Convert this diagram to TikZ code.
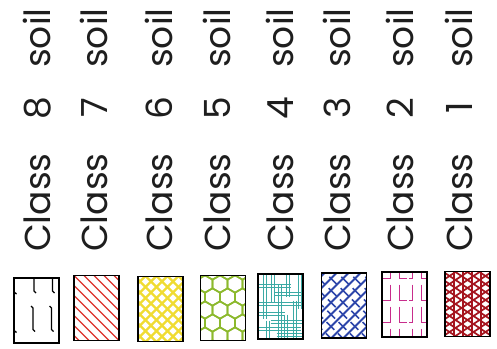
\documentclass[tikz,border=0pt]{standalone}
\usepackage{fontspec}
\setmainfont{Poppins}
\definecolor{txt}{RGB}{30,30,30}
\definecolor{c7red}{RGB}{220,50,45}
\definecolor{c6yel}{RGB}{240,220,50}
\definecolor{c5grn}{RGB}{140,185,45}
\definecolor{c4teal}{RGB}{60,170,165}
\definecolor{c3blue}{RGB}{45,70,170}
\definecolor{c2mag}{RGB}{200,45,140}
\definecolor{c1red}{RGB}{165,20,30}
\tikzset{
  lbl/.style={rotate=90, inner sep=0, font=\fontsize{36}{36}\selectfont, text=txt},
  swatch/.style={draw=black, line width=1.8pt, minimum width=45pt, minimum height=65pt, inner sep=0pt, fill=white},
  patEight/.style={path picture={\begin{scope}[shift={(path picture bounding box.center)}, line width=1.3pt, black]
      \draw (-2.5,-35) -- (-2.5,-19.5) -- (-0.5,-17.5);
      \draw (16,-35) -- (16,-19.5) -- (18,-17.5);
      \draw (-5.5,-4.5) -- (-3.5,-2.5) -- (-3.5,19) -- (-1.5,21);
      \draw (13,-4.5) -- (15,-2.5) -- (15,19) -- (17,21);
      \draw (-23,-19) -- (-20,-16.5);
      \draw (-23,19.5) -- (-20,22);
    \end{scope}}},
  patSeven/.style={path picture={\begin{scope}[shift={(path picture bounding box.center)}]
      \foreach \a in {-100,-90,...,30} \draw[c7red, line width=1.1pt] (\a,-40) -- (\a+80,40);
    \end{scope}}},
  patSix/.style={path picture={\begin{scope}[shift={(path picture bounding box.center)}]
      \foreach \a in {-99,-88,...,45} {
        \draw[c6yel, line width=2.4pt] (\a,-40) -- (\a+80,40);
        \draw[c6yel, line width=2.4pt] (\a,40) -- (\a+80,-40);}
    \end{scope}}},
  patFive/.style={path picture={\begin{scope}[shift={(path picture bounding box.center)}]
      \foreach \j in {-3,...,3} \foreach \i in {-2,...,2} {
        \pgfmathsetmacro\cx{\i*15+7.5*mod(abs(\j),2)-3}
        \pgfmathsetmacro\cy{\j*13+2}
        \draw[c5grn, line width=1.6pt] (\cx,\cy) +(90:8.66) -- +(30:8.66) -- +(-30:8.66) -- +(-90:8.66) -- +(-150:8.66) -- +(150:8.66) -- cycle;}
    \end{scope}}},
  patFour/.style={path picture={\begin{scope}[shift={(path picture bounding box.center)}, c4teal, line width=0.8pt]
      \foreach \x/\ya/\yb in {-17/-34/12, -9/-34/-4, -2/-22/34, 6/-34/-10, 13/-6/34, 18/-34/2, -14/14/34, 4/8/34} {
        \draw (\x,\ya) -- (\x,\yb); \draw (\x+2.6,\ya) -- (\x+2.6,\yb);}
      \foreach \y/\xa/\xb in {-22/-24/10, -14/-6/24, -4/-24/24, 6/-24/4, 14/-10/24, 21/-24/20, 27/-4/24} {
        \draw (\xa,\y) -- (\xb,\y); \draw (\xa,\y+2.6) -- (\xb,\y+2.6);}
    \end{scope}}},
  patThree/.style={path picture={\begin{scope}[shift={(path picture bounding box.center)}]
      \foreach \a in {-104,-92,...,40} {
        \draw[c3blue, line width=1.8pt] (\a,40) -- (\a+80,-40);}
      \foreach \a in {-98,-86,...,40} {
        \draw[c3blue, line width=1.6pt, dash pattern=on 11pt off 5pt] (\a,-40) -- (\a+80,40);}
    \end{scope}}},
  patTwo/.style={path picture={\begin{scope}[shift={(path picture bounding box.center)}, c2mag, line width=1.3pt]
      \foreach \y in {-42,-20,2,24} {
        \draw (-14,\y) -- (-14,\y+16) -- (-22,\y+16);
        \draw (-5,\y) -- (-5,\y+16) -- (2,\y+16);
        \draw (8,\y) -- (8,\y+16) -- (4,\y+16);
        \draw (17,\y) -- (17,\y+16) -- (24,\y+16);}
    \end{scope}}},
  patOne/.style={path picture={\begin{scope}[shift={(path picture bounding box.center)}, c1red, line width=1.7pt]
      \foreach \x in {-22.5,-13.5,...,23} \draw (\x,-35) -- (\x,35);
      \foreach \b in {-56,-48,...,56} {
        \draw (-23,\b-15.33) -- (23,\b+15.33);
        \draw (-23,\b+15.33) -- (23,\b-15.33);}
    \end{scope}}},
}
\begin{document}
\begin{tikzpicture}[x=1pt,y=-1pt]
\useasboundingbox (0,0) rectangle (497,348);
% swatches
\node[swatch, patEight] (s8) at (36.5,310.5) {};
\node[swatch, patSeven] (s7) at (96.5,308) {};
\node[swatch, patSix] (s6) at (160.5,309) {};
\node[swatch, patFive] (s5) at (223,308) {};
\node[swatch, patFour] (s4) at (280.5,306.5) {};
\node[swatch, patThree] (s3) at (344,305.5) {};
\node[swatch, patTwo] (s2) at (404.5,304.5) {};
\node[swatch, patOne] (s1) at (467.5,304) {};
% labels
\foreach \n/\bx in {8/50,7/107,6/172,5/230,4/293,3/350,2/413,1/472} {
  \node[lbl, anchor=base west] (cl\n) at (\bx,252) {Class};
  \node[lbl, anchor=base] (nu\n) at (\bx,108) {\n};
  \node[lbl, anchor=base west] (so\n) at (\bx,68) {soil};
}
\end{tikzpicture}
\end{document}
